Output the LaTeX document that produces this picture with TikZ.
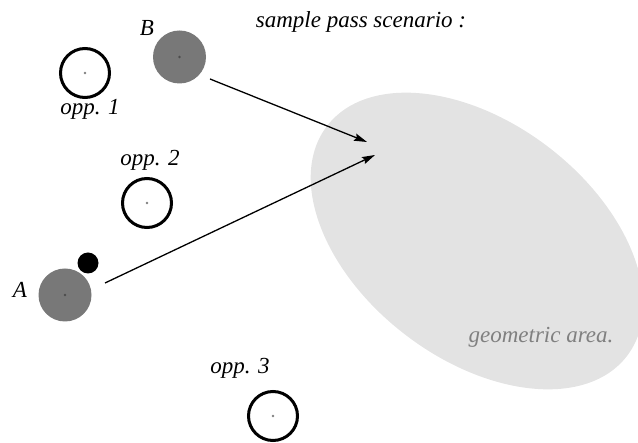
\documentclass[tikz,border=0pt]{standalone}
\usepackage{fontspec}
\newfontfamily\pfont{Liberation Serif}[ItalicFont={Liberation Serif Italic}]
\usetikzlibrary{arrows.meta,shapes.geometric}
\definecolor{plgray}{HTML}{787878}
\definecolor{areagray}{HTML}{E3E3E3}
\definecolor{areatext}{HTML}{808080}
\tikzset{
  centerdot/.style={path picture={\fill[#1] (path picture bounding box.center) circle (1.4pt);}},
  opp/.style={circle, draw=black, line width=3pt, minimum size=49pt, inner sep=0pt, centerdot=gray},
  player/.style={circle, fill=plgray, minimum size=53pt, inner sep=0pt, centerdot=black!70},
  ball/.style={circle, fill=black, minimum size=21pt, inner sep=0pt},
  lbl/.style={font=\pfont\fontsize{23}{27}\selectfont\itshape, inner sep=0pt},
  pass/.style={line width=1.3pt, -{Stealth[length=13pt,width=7.5pt,inset=2pt]}},
}
\begin{document}
\begin{tikzpicture}[x=1pt,y=-1pt]
\useasboundingbox (0,0) rectangle (638,443);
% geometric area
\node[ellipse, fill=areagray, rotate=-37.5, minimum width=378pt, minimum height=236pt, inner sep=0pt] (area) at (477,241) {};
\node[lbl, text=areatext] (areatxt) at (541,337) {geometric area.};
% title
\node[lbl] (title) at (361,22) {sample pass scenario :};
% opponents
\node[opp] (o1) at (85,73) {};
\node[lbl] (o1l) at (90,109) {opp. 1};
\node[opp] (o2) at (147,203) {};
\node[lbl] (o2l) at (150,160) {opp. 2};
\node[opp] (o3) at (273,416) {};
\node[lbl] (o3l) at (240,368) {opp. 3};
% players
\node[player] (B) at (179.5,57) {};
\node[lbl] (Bl) at (147,28) {B};
\node[player] (A) at (65,295) {};
\node[lbl] (Al) at (20,290) {A};
\node[ball] (ball) at (88,263) {};
% passes
\coordinate (bs) at (210,79);
\coordinate (be) at (367,142);
\coordinate (as) at (105,283);
\coordinate (ae) at (375,155);
\draw[pass] (bs) -- (be);
\draw[pass] (as) -- (ae);
\end{tikzpicture}
\end{document}
